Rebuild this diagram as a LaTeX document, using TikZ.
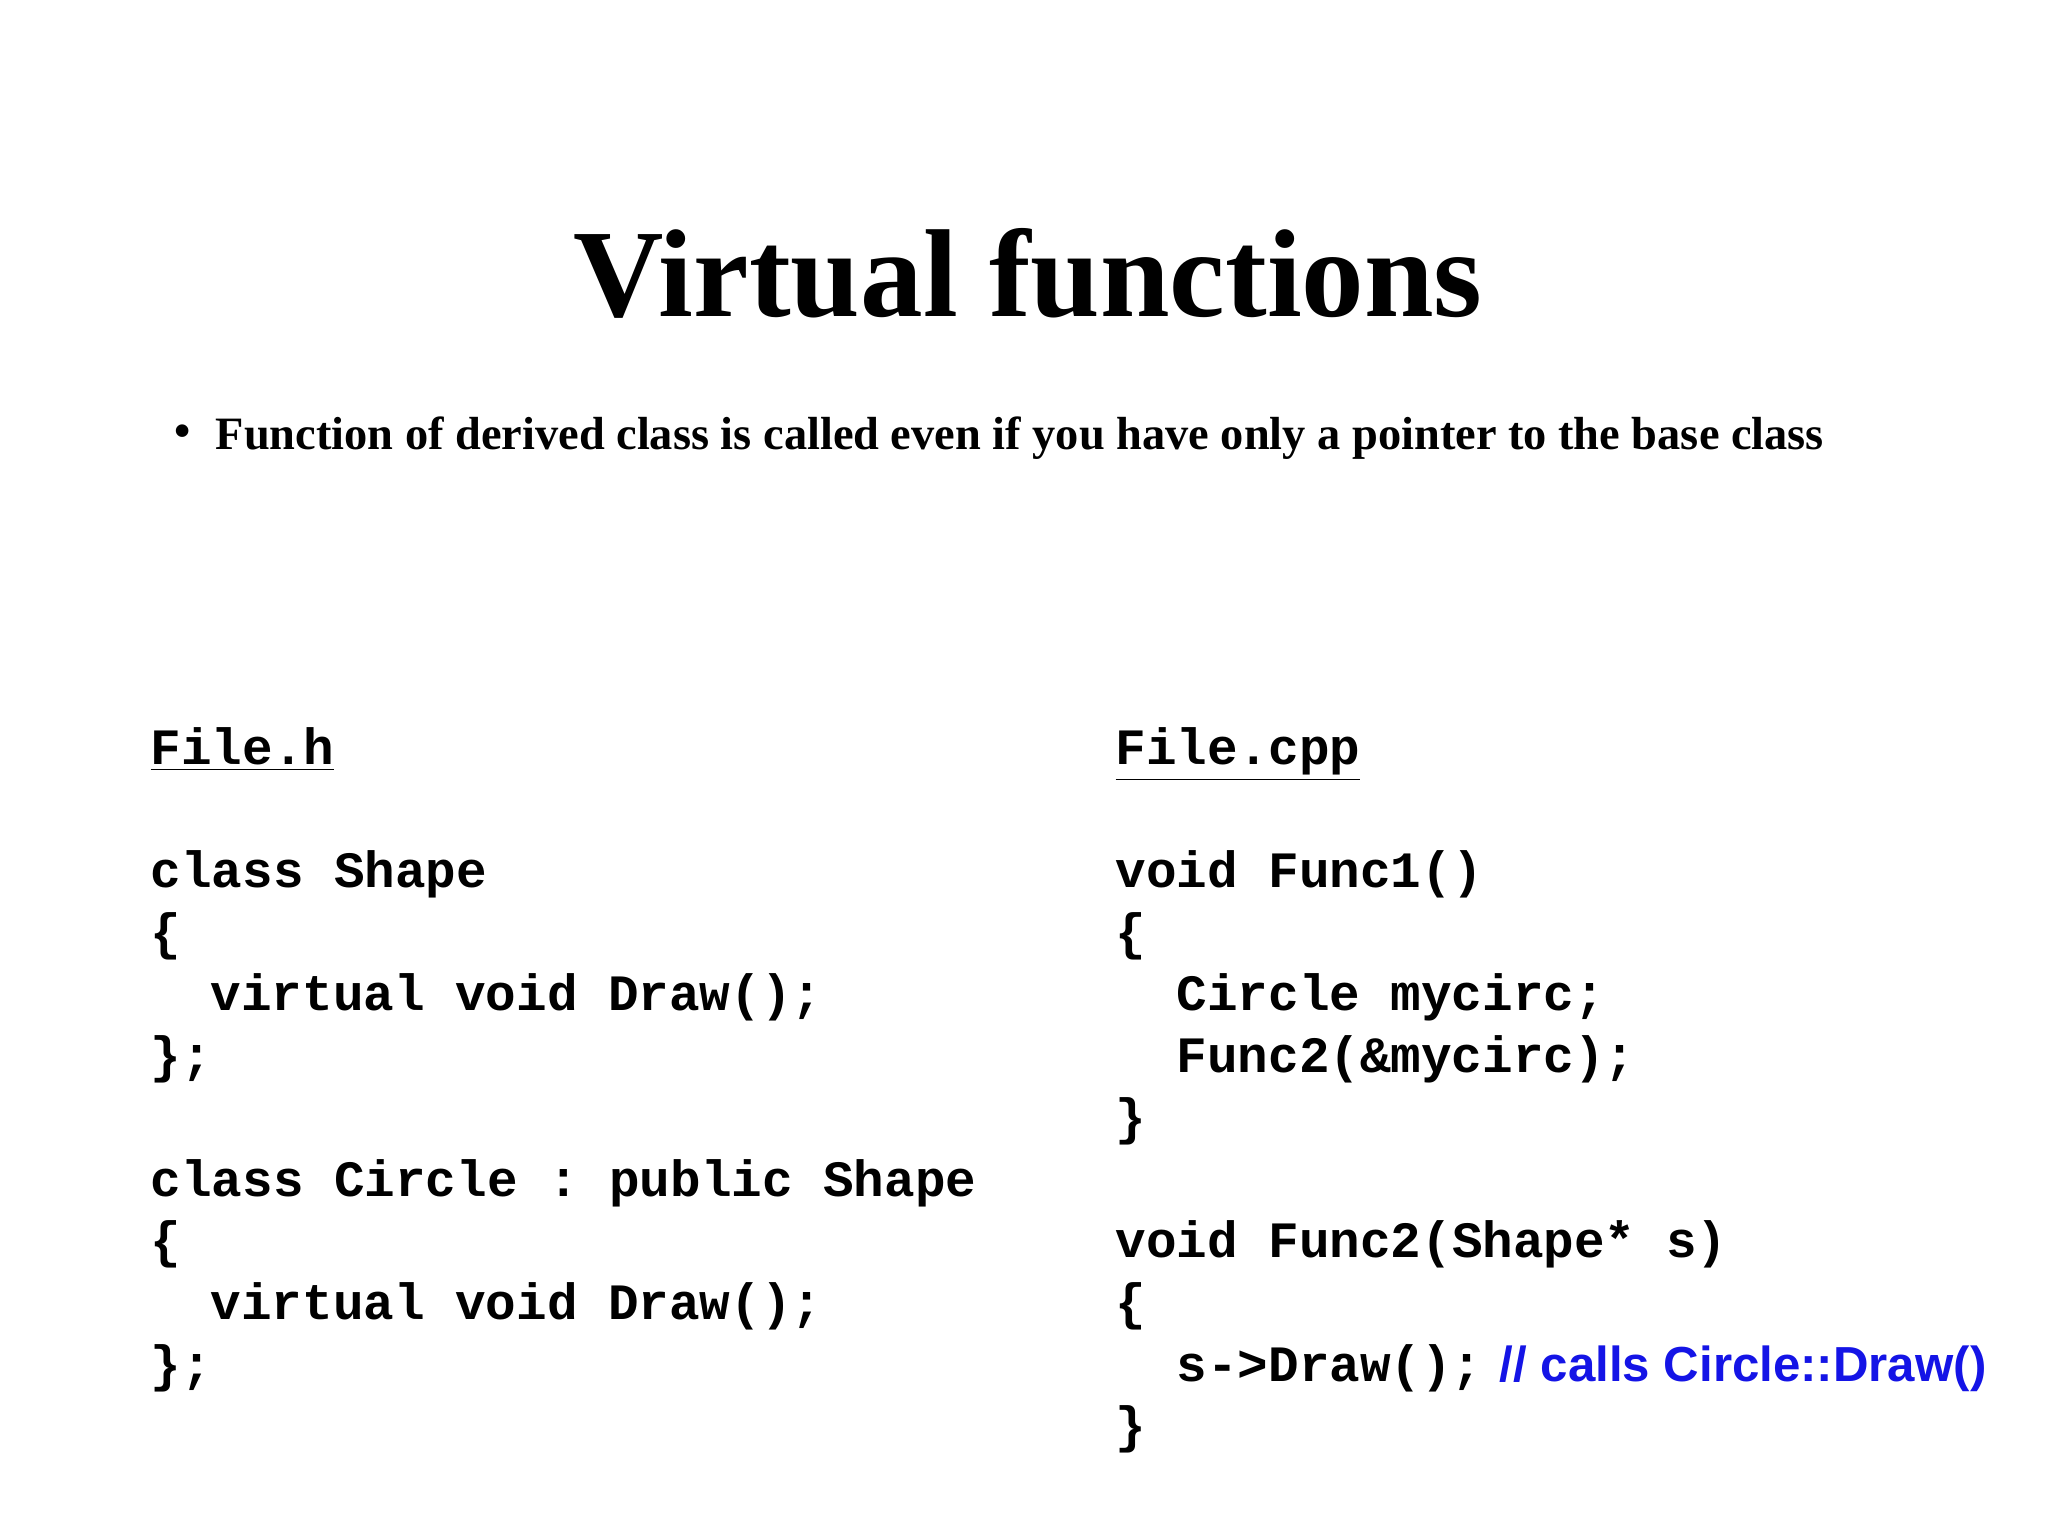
\documentclass[tikz,border=0pt]{standalone}
\usepackage{fontspec}
\setmainfont{Liberation Serif}
\setmonofont{Liberation Mono}
\newfontfamily\arialf{Liberation Sans}
\definecolor{cblue}{RGB}{20,20,230}
\begin{document}
\begin{tikzpicture}[x=1cm,y=1cm,
  code/.style={anchor=base west,inner sep=0pt,font=\ttfamily\bfseries\fontsize{14.5}{17}\selectfont}]
\useasboundingbox[fill=white] (0,0) rectangle (20.48,-15.36);
\node[anchor=base,inner sep=0pt,font=\bfseries\fontsize{35.6}{40}\selectfont] (title) at (10.28,-3.17) {Virtual functions};
\node[anchor=base,inner sep=0pt,font=\bfseries\fontsize{13.2}{15}\selectfont] (bul) at (1.83,-4.47) {\textbullet};
\node[anchor=base west,inner sep=0pt,font=\bfseries\fontsize{13.2}{15}\selectfont] (btext) at (2.15,-4.50) {Function of derived class is called even if you have only a pointer to the base class};
% left
\node[code] (l0) at (1.50,-7.641) {\underline{File.h}};
\node[code] (l2) at (1.50,-8.875) {class Shape};
\node[code] (l3) at (1.50,-9.492) {\{};
\node[code] (l4) at (2.10,-10.109) {virtual void Draw();};
\node[code] (l5) at (1.50,-10.726) {\};};
\node[code] (l7) at (1.50,-11.960) {class Circle : public Shape};
\node[code] (l8) at (1.50,-12.577) {\{};
\node[code] (l9) at (2.10,-13.194) {virtual void Draw();};
\node[code] (l10) at (1.50,-13.811) {\};};
% right
\node[code] (r0) at (11.15,-7.641) {\underline{File.cpp}};
\node[code] (r2) at (11.15,-8.875) {void Func1()};
\node[code] (r3) at (11.15,-9.492) {\{};
\node[code] (r4) at (11.76,-10.109) {Circle mycirc;};
\node[code] (r5) at (11.76,-10.726) {Func2(\&mycirc);};
\node[code] (r6) at (11.15,-11.343) {\}};
\node[code] (r8) at (11.15,-12.577) {void Func2(Shape* s)};
\node[code] (r9) at (11.15,-13.194) {\{};
\node[code] (r10) at (11.76,-13.811) {s->Draw();};
\node[anchor=base west,inner sep=0pt,text=cblue,font=\arialf\bfseries\fontsize{14}{17}\selectfont] (cm) at (14.99,-13.811) {// calls Circle::Draw()};
\node[code] (r11) at (11.15,-14.428) {\}};
\end{tikzpicture}
\end{document}
